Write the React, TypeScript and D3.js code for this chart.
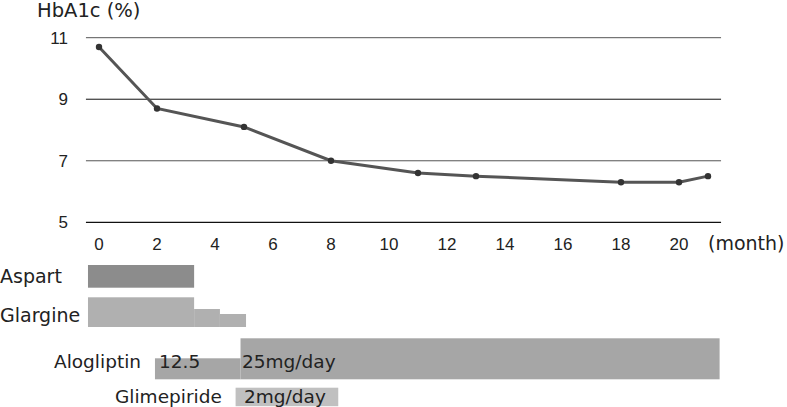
import React from "react";
import * as d3 from "d3";

const months = [0, 2, 5, 8, 11, 13, 18, 20, 21];
const hba1c = [10.7, 8.7, 8.1, 7.0, 6.6, 6.5, 6.3, 6.3, 6.5];
const yTicks = [5, 7, 9, 11];
const xTicks = [0, 2, 4, 6, 8, 10, 12, 14, 16, 18, 20];

// treatment segments: [start month, end month]
const aspart = [[-0.38, 3.28]];
const glargine = [[-0.38, 3.28], [3.28, 4.17], [4.17, 5.07]];
const alogliptin = [[1.93, 4.88], [4.88, 21.4]];
const alogliptinText = ["12.5", "25mg/day"];
const glimepiride = [[4.71, 8.25]];
const glimepirideText = ["2mg/day"];

const W = 787;
const H = 407;
const labelFont = "'DejaVu Sans', Verdana, sans-serif";
const tickFont = "'Liberation Sans', Arial, sans-serif";

export default function App() {
  const x = d3.scaleLinear().domain([0, 20]).range([99, 679]);
  const y = d3.scaleLinear().domain([5, 11]).range([222.3, 37.7]);
  const line = d3
    .line<number>()
    .x((_, i) => x(months[i]))
    .y((v) => y(v));
  const gridX0 = x(-0.45);
  const gridX1 = x(21.45);

  // Glargine step tops (relative dose levels)
  const glargineTops = [297.3, 309, 314];

  return (
    <svg
      width={W}
      height={H}
      style={{ position: "absolute", left: 0, top: 0, background: "#fff" }}
    >
      <text x={37} y={17} fontFamily={labelFont} fontSize={19.5} fill="#222">
        HbA1c (%)
      </text>
      {yTicks.map((t) => (
        <g key={t}>
          <line
            x1={gridX0}
            x2={gridX1}
            y1={y(t)}
            y2={y(t)}
            stroke={t === 5 || t === 9 ? "#111" : "#555"}
            strokeWidth={t === 5 ? 1.2 : 1}
          />
          <text
            x={68}
            y={y(t)}
            dy="0.35em"
            textAnchor="end"
            fontFamily={tickFont}
            fontSize={17}
            fill="#222"
          >
            {t}
          </text>
        </g>
      ))}
      {xTicks.map((t) => (
        <text
          key={t}
          x={x(t)}
          y={250}
          textAnchor="middle"
          fontFamily={tickFont}
          fontSize={17}
          fill="#222"
        >
          {t}
        </text>
      ))}
      <text x={708} y={250} fontFamily={labelFont} fontSize={19} fill="#222">
        (month)
      </text>

      <path d={line(hba1c) || ""} fill="none" stroke="#555" strokeWidth={3} />
      {hba1c.map((v, i) => (
        <circle key={i} cx={x(months[i])} cy={y(v)} r={3.2} fill="#333" />
      ))}

      {/* Aspart */}
      <text x={0} y={283} fontFamily={labelFont} fontSize={19} fill="#222">
        Aspart
      </text>
      {aspart.map(([s, e], i) => (
        <rect key={i} x={x(s)} y={265} width={x(e) - x(s)} height={22.7} fill="#8c8c8c" />
      ))}

      {/* Glargine */}
      <text x={0} y={322} fontFamily={labelFont} fontSize={19} fill="#222">
        Glargine
      </text>
      {glargine.map(([s, e], i) => (
        <rect
          key={i}
          x={x(s)}
          y={glargineTops[i]}
          width={x(e) - x(s)}
          height={327 - glargineTops[i]}
          fill="#b0b0b0"
        />
      ))}

      {/* Alogliptin */}
      <text x={54} y={368} fontFamily={labelFont} fontSize={18.5} fill="#222">
        Alogliptin
      </text>
      {alogliptin.map(([s, e], i) => {
        const top = i === 0 ? 358.3 : 338.3;
        return (
          <rect key={i} x={x(s)} y={top} width={x(e) - x(s)} height={379.3 - top} fill="#a6a6a6" />
        );
      })}
      {alogliptin.map(([s], i) => (
        <text
          key={"t" + i}
          x={x(s) + (i === 0 ? 4 : 1.5)}
          y={368}
          fontFamily={labelFont}
          fontSize={18.5}
          fill="#222"
        >
          {alogliptinText[i]}
        </text>
      ))}

      {/* Glimepiride */}
      <text x={115} y={403} fontFamily={labelFont} fontSize={18.5} fill="#222">
        Glimepiride
      </text>
      {glimepiride.map(([s, e], i) => (
        <rect key={i} x={x(s)} y={387.7} width={x(e) - x(s)} height={18.5} fill="#c0c0c0" />
      ))}
      {glimepiride.map(([s], i) => (
        <text
          key={"g" + i}
          x={x(s) + 8.5}
          y={403}
          fontFamily={labelFont}
          fontSize={18.5}
          fill="#222"
        >
          {glimepirideText[i]}
        </text>
      ))}
    </svg>
  );
}
